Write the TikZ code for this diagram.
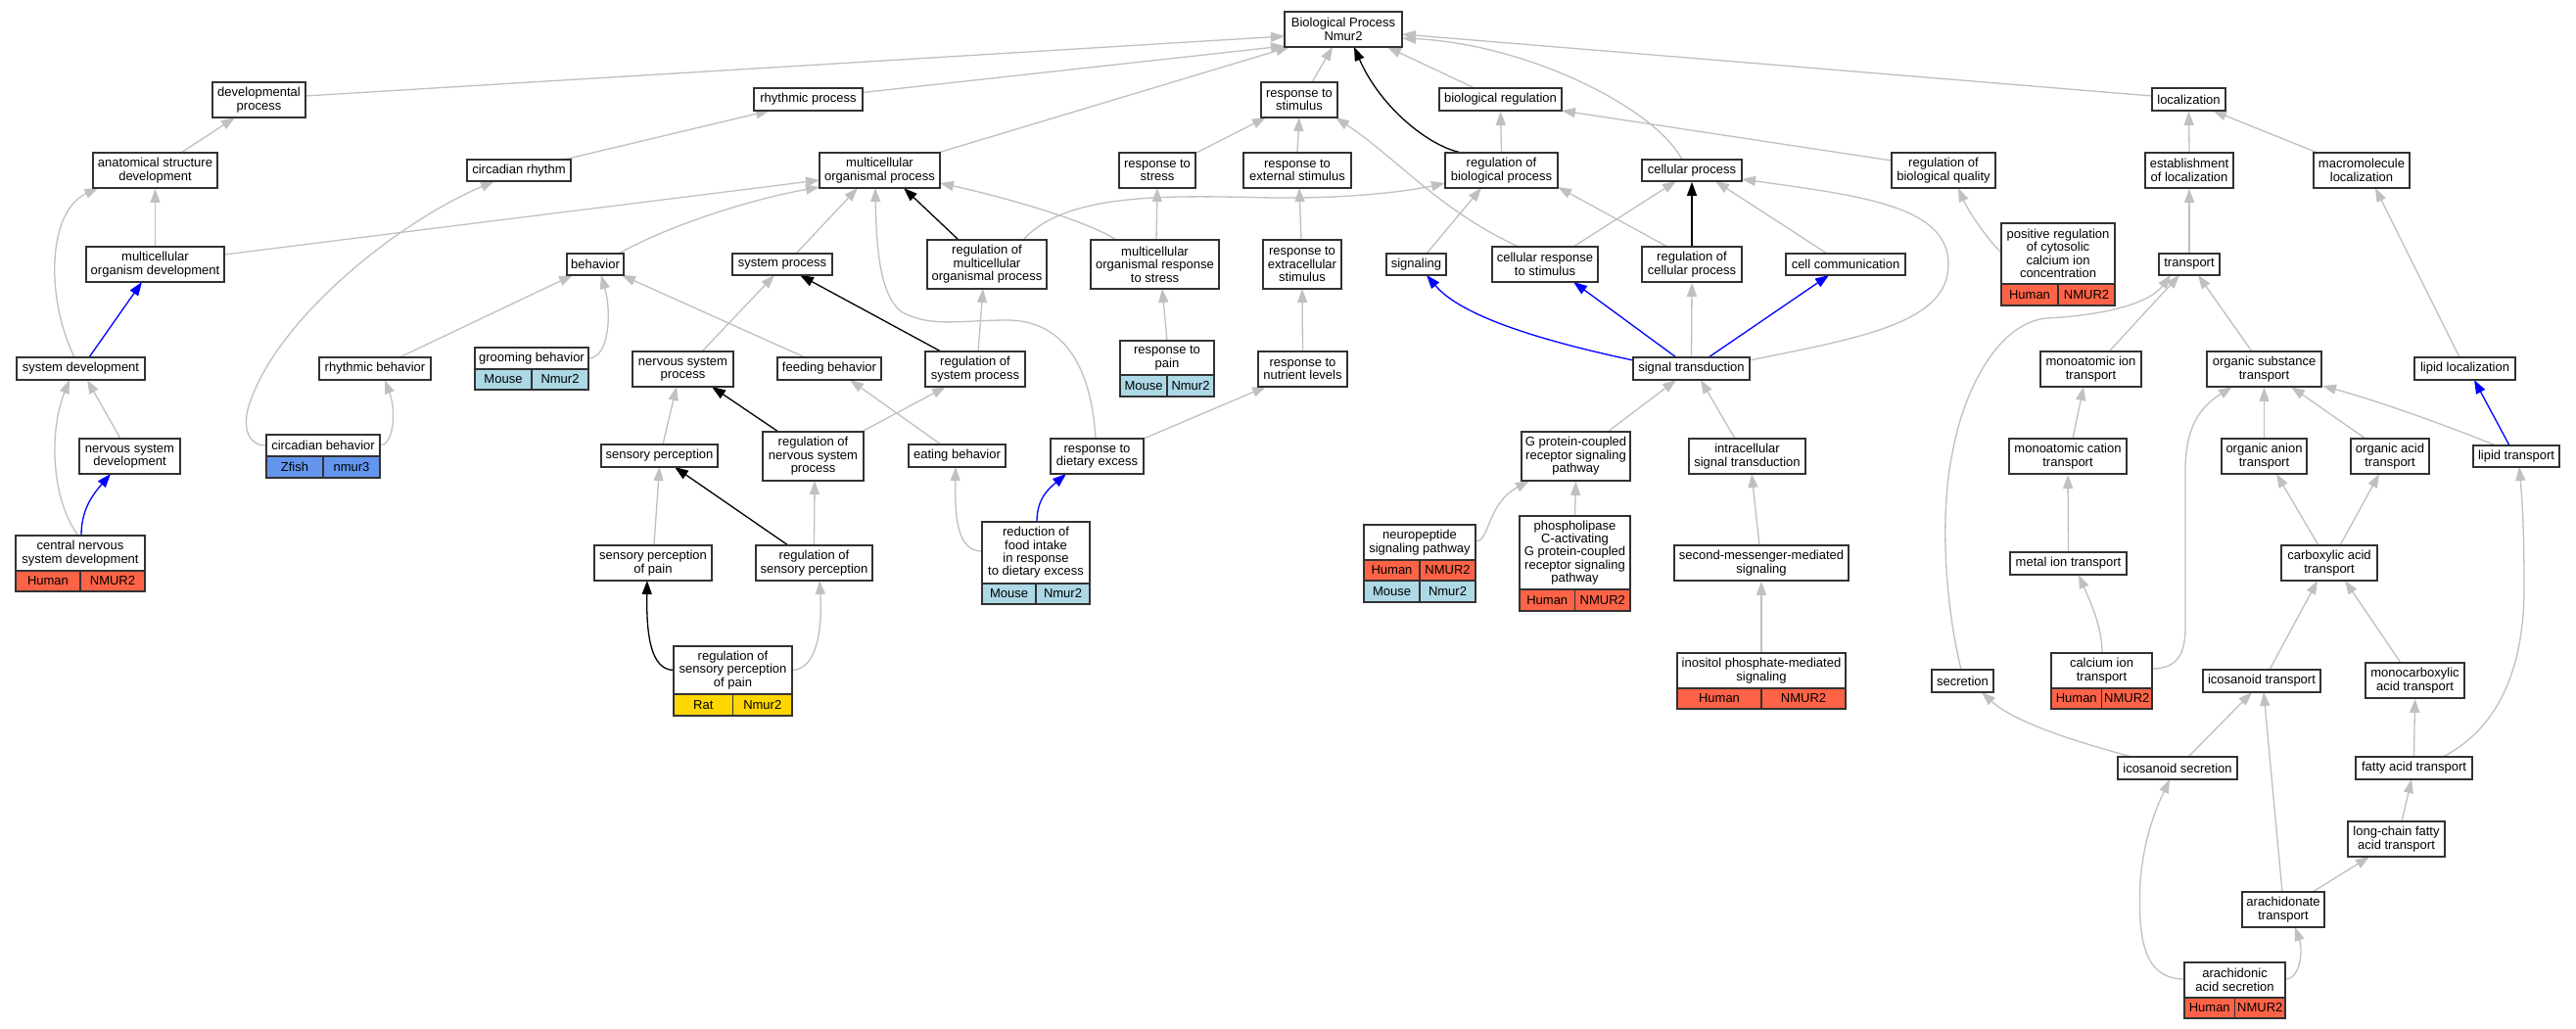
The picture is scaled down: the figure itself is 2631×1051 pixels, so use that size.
\documentclass[tikz,border=0pt]{standalone}
\usepackage{fontspec}
\setmainfont{Liberation Sans}
\usetikzlibrary{arrows.meta,calc,backgrounds}
\definecolor{egray}{RGB}{192,192,192}
\definecolor{hum}{RGB}{255,99,71}
\definecolor{mou}{RGB}{173,216,230}
\definecolor{zfi}{RGB}{100,149,237}
\definecolor{ratc}{RGB}{255,215,0}
\definecolor{bord}{RGB}{50,50,50}
\newcommand{\gonode}[6]{%
\pgfmathsetmacro{\gocx}{(#2+#3)/2}%
\pgfmathsetmacro{\gocy}{(#4+#5)/2}%
\pgfmathsetmacro{\gow}{#3-#2}%
\pgfmathsetmacro{\goh}{#5-#4}%
\node[gobox, minimum width=\gow pt, minimum height=\goh pt] (#1) at (\gocx,\gocy) {#6};}
\newcommand{\gorow}[8]{%
\pgfmathsetmacro{\gom}{(#2+#3)/2}%
\pgfmathsetmacro{\gow}{(#3-#2)/2}%
\pgfmathsetmacro{\goh}{#5-#4}%
\pgfmathsetmacro{\gocy}{(#4+#5)/2}%
\pgfmathsetmacro{\gola}{(#2+\gom)/2}%
\pgfmathsetmacro{\golb}{(\gom+#3)/2}%
\node[gobox, fill=#6, minimum width=\gow pt, minimum height=\goh pt] (#1-a) at (\gola,\gocy) {#7};
\node[gobox, fill=#6, minimum width=\gow pt, minimum height=\goh pt] (#1-b) at (\golb,\gocy) {#8};}
\begin{document}
\begin{tikzpicture}[x=1pt,y=-1pt,
  gobox/.style={draw=bord, line width=1.7pt, fill=white, inner sep=0pt, align=center, font=\fontsize{13}{13.4}\selectfont},
  gedge/.style={draw=egray, line width=1.3pt, -{Triangle[length=14pt,width=10pt]}},
  bedge/.style={gedge, draw=black},
  uedge/.style={gedge, draw=blue}]
\useasboundingbox (0,0) rectangle (2631,1051);
% ---------- nodes ----------
\gonode{BP}{1312}{1432}{12}{48}{Biological Process\\Nmur2}
\gonode{devproc}{217}{312}{84}{120}{developmental\\process}
\gonode{rp}{770}{881}{90}{113}{rhythmic process}
\gonode{rts}{1288}{1366}{84}{120}{response to\\stimulus}
\gonode{bioreg}{1470}{1595}{90}{113}{biological regulation}
\gonode{loc}{2198}{2273}{90}{113}{localization}
\gonode{asd}{95}{222}{156}{192}{anatomical structure\\development}
\gonode{cr}{477}{583}{163}{185}{circadian rhythm}
\gonode{mop}{837}{960}{156}{192}{multicellular\\organismal process}
\gonode{rstress}{1143}{1221}{156}{192}{response to\\stress}
\gonode{rext}{1270}{1380}{156}{192}{response to\\external stimulus}
\gonode{rbp}{1476}{1591}{156}{192}{regulation of\\biological process}
\gonode{cp}{1677}{1779}{163}{185}{cellular process}
\gonode{rbq}{1932}{2038}{156}{192}{regulation of\\biological quality}
\gonode{eol}{2191}{2281}{156}{192}{establishment\\of localization}
\gonode{ml}{2363}{2461}{156}{192}{macromolecule\\localization}
\gonode{mod}{88}{229}{252}{288}{multicellular\\organism development}
\gonode{beh}{579}{637}{259}{281}{behavior}
\gonode{sp}{748}{850}{259}{281}{system process}
\gonode{rmop}{947}{1069}{245}{295}{regulation of\\multicellular\\organismal process}
\gonode{mors}{1114}{1245}{245}{295}{multicellular\\organismal response\\to stress}
\gonode{rextra}{1290}{1370}{245}{295}{response to\\extracellular\\stimulus}
\gonode{sig}{1416}{1477}{259}{281}{signaling}
\gonode{crs}{1524}{1632}{252}{288}{cellular response\\to stimulus}
\gonode{rcp}{1677}{1779}{252}{288}{regulation of\\cellular process}
\gonode{cc}{1824}{1946}{259}{281}{cell communication}
\gonode{posreg}{2044}{2160}{228}{290}{positive regulation\\of cytosolic\\calcium ion\\concentration}
\gorow{posregr}{2044}{2160}{290}{312}{hum}{Human}{NMUR2}
\gonode{tr}{2205}{2267}{259}{281}{transport}
\gonode{sd}{17}{148}{365}{388}{system development}
\gonode{rb}{326}{440}{365}{388}{rhythmic behavior}
\gonode{gb}{485}{601}{355}{377}{grooming behavior}
\gorow{gbr}{485}{601}{377}{398}{mou}{Mouse}{Nmur2}
\gonode{nsp}{646}{749}{359}{395}{nervous system\\process}
\gonode{fb}{794}{900}{365}{388}{feeding behavior}
\gonode{rsp}{945}{1047}{359}{395}{regulation of\\system process}
\gonode{rpain}{1144}{1240}{348}{383}{response to\\pain}
\gorow{rpainr}{1144}{1240}{383}{405}{mou}{Mouse}{Nmur2}
\gonode{rnl}{1285}{1376}{359}{395}{response to\\nutrient levels}
\gonode{st}{1668}{1787}{365}{388}{signal transduction}
\gonode{mit}{2084}{2187}{359}{395}{monoatomic ion\\transport}
\gonode{ost}{2254}{2371}{359}{395}{organic substance\\transport}
\gonode{ll}{2466}{2569}{365}{388}{lipid localization}
\gonode{nsd}{81}{184}{448}{484}{nervous system\\development}
\gonode{cb}{272}{388}{444}{466}{circadian behavior}
\gorow{cbr}{272}{388}{466}{488}{zfi}{Zfish}{nmur3}
\gonode{sperc}{614}{733}{454}{477}{sensory perception}
\gonode{rnsp}{779}{882}{441}{491}{regulation of\\nervous system\\process}
\gonode{eb}{928}{1027}{454}{477}{eating behavior}
\gonode{rde}{1073}{1168}{448}{484}{response to\\dietary excess}
\gonode{gpcr}{1554}{1665}{441}{491}{G protein-coupled\\receptor signaling\\pathway}
\gonode{ist}{1725}{1844}{448}{484}{intracellular\\signal transduction}
\gonode{mcat}{2052}{2172}{448}{484}{monoatomic cation\\transport}
\gonode{oat}{2269}{2356}{448}{484}{organic anion\\transport}
\gonode{oacid}{2401}{2481}{448}{484}{organic acid\\transport}
\gonode{lt}{2526}{2614}{455}{477}{lipid transport}
\gonode{cnsd}{16}{148}{547}{583}{central nervous\\system development}
\gorow{cnsdr}{16}{148}{583}{604}{hum}{Human}{NMUR2}
\gonode{spp}{607}{727}{557}{593}{sensory perception\\of pain}
\gonode{rsperc}{772}{891}{557}{593}{regulation of\\sensory perception}
\gonode{rfi}{1003}{1113}{533}{596}{reduction of\\food intake\\in response\\to dietary excess}
\gorow{rfir}{1003}{1113}{596}{617}{mou}{Mouse}{Nmur2}
\gonode{neuro}{1393}{1507}{536}{572}{neuropeptide\\signaling pathway}
\gorow{neuror}{1393}{1507}{572}{593}{hum}{Human}{NMUR2}
\gorow{neurors}{1393}{1507}{593}{615}{mou}{Mouse}{Nmur2}
\gonode{plc}{1552}{1665}{527}{602}{phospholipase\\C-activating\\G protein-coupled\\receptor signaling\\pathway}
\gorow{plcr}{1552}{1665}{602}{624}{hum}{Human}{NMUR2}
\gonode{sms}{1710}{1888}{557}{593}{second-messenger-mediated\\signaling}
\gonode{metal}{2053}{2172}{564}{587}{metal ion transport}
\gonode{carb}{2330}{2428}{557}{593}{carboxylic acid\\transport}
\gonode{rsppain}{688}{809}{660}{709}{regulation of\\sensory perception\\of pain}
\gorow{rsppainr}{688}{809}{709}{731}{ratc}{Rat}{Nmur2}
\gonode{ips}{1713}{1885}{667}{703}{inositol phosphate-mediated\\signaling}
\gorow{ipsr}{1713}{1885}{703}{724}{hum}{Human}{NMUR2}
\gonode{sec}{1973}{2036}{684}{707}{secretion}
\gonode{cit}{2095}{2198}{667}{703}{calcium ion\\transport}
\gorow{citr}{2095}{2198}{703}{724}{hum}{Human}{NMUR2}
\gonode{ict}{2250}{2370}{684}{707}{icosanoid transport}
\gonode{mca}{2416}{2517}{677}{713}{monocarboxylic\\acid transport}
\gonode{icosec}{2163}{2285}{773}{796}{icosanoid secretion}
\gonode{fat}{2406}{2525}{773}{796}{fatty acid transport}
\gonode{lcfat}{2398}{2497}{839}{875}{long-chain fatty\\acid transport}
\gonode{arat}{2290}{2374}{911}{947}{arachidonate\\transport}
\gonode{aas}{2231}{2334}{983}{1019}{arachidonic\\acid secretion}
\gorow{aasr}{2231}{2334}{1019}{1040}{hum}{Human}{NMUR2}
% ---------- edges ----------
\begin{pgfonlayer}{background}
\fill[white] (0,0) rectangle (2631,1051);
\draw[gedge] ($(devproc)+(47.5,-4)$) -- ($(BP)+(-60,7)$);
\draw[gedge] ($(rp)+(55.5,-7)$) -- ($(BP)+(-60,17)$);
\draw[gedge] ($(mop)+(59.5,-18)$) -- ($(BP)+(-55,18)$);
\draw[gedge] ($(rts)+(13,-18)$) -- ($(BP)+(-11,18)$);
\draw[bedge] ($(rbp)+(-40.5,-18)$) .. controls (1460,150) and (1410,110) .. ($(BP)+(11,18)$);
\draw[gedge] ($(bioreg)+(-26.5,-11.5)$) -- ($(BP)+(45,18)$);
\draw[gedge] ($(cp)+(-10,-11)$) .. controls (1690,110) and (1560,45) .. ($(BP)+(60,9)$);
\draw[gedge] ($(loc)+(-37.5,-3.5)$) -- ($(BP)+(60,5)$);
\draw[gedge] ($(asd)+(26.5,-18)$) -- ($(devproc)+(-24.5,18)$);
\draw[gedge] ($(cr)+(46,-11)$) -- ($(rp)+(-39.5,11.5)$);
\draw[gedge] (mod.north) -- (asd.south);
\draw[gedge] ($(mod)+(70.5,-10)$) -- ($(mop)+(-61.5,10)$);
\draw[gedge] ($(beh)+(24,-11)$) .. controls (680,232) and (760,205) .. ($(mop)+(-61.5,17)$);
\draw[gedge] ($(sd)+(-6.5,-11.5)$) .. controls (45,300) and (50,215) .. ($(asd)+(-58,18)$);
\draw[uedge] ($(sd)+(8.5,-11.5)$) -- ($(mod)+(-13.5,18)$);
\draw[gedge] ($(nsd)+(-9.5,-18)$) -- ($(sd)+(6.5,11.5)$);
\draw[uedge] ($(cnsd)+(1,-18)$) .. controls (83,520) and (95,505) .. ($(nsd)+(-19.5,18)$);
\draw[gedge] ($(cnsd)+(-2,-18)$) .. controls (52,510) and (50,440) .. ($(sd)+(-11.5,11.5)$);
\draw[gedge] ($(cb)+(-58,0)$) .. controls (252,455) and (248,435) .. (254,415) .. controls (280,330) and (400,230) .. ($(cr)+(-25,11)$);
\draw[gedge] ($(cb)+(58,0)$) .. controls (402,455) and (405,420) .. ($(rb)+(10,11.5)$);
\draw[gedge] ($(rb)+(25,-11.5)$) -- ($(beh)+(-23,11)$);
\draw[gedge] ($(gb)+(58,0)$) .. controls (622,366) and (625,320) .. ($(beh)+(6,11)$);
\draw[gedge] ($(fb)+(-25,-11.5)$) -- ($(beh)+(27,11)$);
\draw[gedge] ($(eb)+(-16.5,-11.5)$) -- ($(fb)+(21,11.5)$);
\draw[gedge] ($(rfi)+(-55,-1.5)$) .. controls (978,563) and (975,530) .. ($(eb)+(-1.5,11.5)$);
\draw[uedge] ($(rfi)+(1,-31.5)$) .. controls (1059,510) and (1070,500) .. ($(rde)+(-31.5,18)$);
\draw[gedge] ($(rde)+(47.5,-18)$) -- ($(rnl)+(-37.5,18)$);
\draw[gedge] ($(rde)+(-1.5,-18)$) .. controls (1115,380) and (1090,328) .. (1030,327) .. controls (980,327) and (950,335) .. (920,318) .. controls (898,300) and (895,250) .. ($(mop)+(-4.5,18)$);
\draw[gedge] ($(sp)+(14,-11)$) -- ($(mop)+(-22.5,18)$);
\draw[bedge] ($(rmop)+(-29,-25)$) -- ($(mop)+(24.5,18)$);
\draw[gedge] ($(rmop)+(37,-25)$) .. controls (1090,195) and (1200,200) .. (1300,202) .. controls (1380,203) and (1440,195) .. ($(rbp)+(-57.5,13)$);
\draw[gedge] ($(mors)+(-39.5,-25)$) .. controls (1110,225) and (1020,200) .. ($(mop)+(61.5,13)$);
\draw[gedge] ($(mors)+(1.5,-25)$) -- ($(rstress)+(0,18)$);
\draw[gedge] ($(rstress)+(40,-18)$) -- ($(rts)+(-34,18)$);
\draw[gedge] (rext.north) -- ($(rts)+(0,18)$);
\draw[gedge] ($(rextra)+(-1,-25)$) -- ($(rext)+(2,18)$);
\draw[gedge] (rnl.north) -- ($(rextra)+(0,25)$);
\draw[gedge] ($(rpain)+(0,-17.5)$) -- ($(mors)+(7.5,25)$);
\draw[gedge] ($(nsp)+(19.5,-18)$) -- ($(sp)+(-8,11)$);
\draw[bedge] ($(rsp)+(-35,-18)$) -- ($(sp)+(18,11)$);
\draw[gedge] ($(rsp)+(3,-18)$) -- ($(rmop)+(-4,25)$);
\draw[bedge] ($(rnsp)+(-35.5,-25)$) -- ($(nsp)+(29.5,18)$);
\draw[gedge] ($(rnsp)+(49.5,-25)$) -- ($(rsp)+(-30,18)$);
\draw[gedge] ($(sperc)+(3.5,-11.5)$) -- ($(nsp)+(-6.5,18)$);
\draw[gedge] ($(spp)+(1,-18)$) -- ($(sperc)+(0,11.5)$);
\draw[bedge] ($(rsperc)+(-26.5,-18)$) -- ($(sperc)+(15.5,11.5)$);
\draw[gedge] (rsperc.north) -- ($(rnsp)+(1.5,25)$);
\draw[bedge] ($(rsppain)+(-60.5,0)$) .. controls (665,684) and (660,650) .. ($(spp)+(-6,18)$);
\draw[gedge] ($(rsppain)+(60.5,0)$) .. controls (835,684) and (840,640) .. ($(rsperc)+(5.5,18)$);
\draw[gedge] ($(sig)+(10.5,-11)$) -- ($(rbp)+(-20.5,18)$);
\draw[gedge] ($(crs)+(-27,-18)$) .. controls (1470,215) and (1425,160) .. ($(rts)+(37,18)$);
\draw[gedge] ($(crs)+(29,-18)$) -- ($(cp)+(-16,11)$);
\draw[bedge] (rcp.north) -- (cp.south);
\draw[gedge] ($(rcp)+(-25,-18)$) -- ($(rbp)+(57.5,17)$);
\draw[gedge] ($(cc)+(-19,-11)$) -- ($(cp)+(24,11)$);
\draw[uedge] ($(st)+(-59.5,-8.5)$) .. controls (1560,345) and (1490,320) .. ($(sig)+(10.5,11)$);
\draw[uedge] ($(st)+(-15.5,-11.5)$) -- ($(crs)+(29,18)$);
\draw[gedge] (st.north) -- (rcp.south);
\draw[uedge] ($(st)+(17.5,-11.5)$) -- ($(cc)+(-17,11)$);
\draw[gedge] ($(st)+(59.5,-8.5)$) .. controls (1900,345) and (1990,330) .. (1990,270) .. controls (1990,210) and (1900,200) .. ($(cp)+(51,9)$);
\draw[gedge] ($(gpcr)+(32.5,-25)$) -- ($(st)+(-15.5,11.5)$);
\draw[gedge] ($(ist)+(-12.5,-18)$) -- ($(st)+(9.5,11.5)$);
\draw[gedge] ($(neuro)+(57,-1)$) .. controls (1522,553) and (1518,515) .. ($(gpcr)+(-47.5,25)$);
\draw[gedge] (plc.north) -- (gpcr.south);
\draw[gedge] ($(sms)+(-2,-18)$) -- ($(ist)+(4.5,18)$);
\draw[gedge] (ips.north) -- (sms.south);
\draw[gedge] ($(rbq)+(-53,-10)$) -- ($(bioreg)+(62.5,11.5)$);
\draw[gedge] ($(posreg)+(-58,-1)$) .. controls (2030,245) and (2010,215) .. ($(rbq)+(15,18)$);
\draw[gedge] (eol.north) -- (loc.south);
\draw[gedge] ($(ml)+(-45,-18)$) -- ($(loc)+(24.5,11.5)$);
\draw[gedge] (tr.north) -- (eol.south);
\draw[gedge] ($(mit)+(18.5,-18)$) -- ($(tr)+(-10,11)$);
\draw[gedge] ($(ost)+(-12.5,-18)$) -- ($(tr)+(9,11)$);
\draw[gedge] ($(sec)+(-1.5,-11.5)$) .. controls (1985,610) and (1982,520) .. (1994,463) .. controls (2005,400) and (2040,330) .. (2090,325) .. controls (2150,322) and (2195,310) .. ($(tr)+(-19,11)$);
\draw[gedge] ($(ll)+(-5.5,-11.5)$) -- ($(ml)+(14,18)$);
\draw[uedge] ($(lt)+(-7,-11)$) -- ($(ll)+(9.5,11.5)$);
\draw[gedge] ($(lt)+(-21,-11)$) .. controls (2500,435) and (2430,410) .. ($(ost)+(59.5,17)$);
\draw[gedge] (oat.north) -- (ost.south);
\draw[gedge] ($(oacid)+(-25,-18)$) -- ($(ost)+(27.5,18)$);
\draw[gedge] ($(cit)+(51.5,-2)$) .. controls (2226,683) and (2232,665) .. (2232,640) -- (2232,480) .. controls (2232,435) and (2248,415) .. ($(ost)+(-32.5,18)$);
\draw[gedge] ($(mcat)+(5,-18)$) -- ($(mit)+(-7.5,18)$);
\draw[gedge] (metal.north) -- (mcat.south);
\draw[gedge] ($(cit)+(0.5,-18)$) .. controls (2147,640) and (2135,615) .. ($(metal)+(10.5,11.5)$);
\draw[gedge] ($(carb)+(-11,-18)$) -- ($(oat)+(12.5,18)$);
\draw[gedge] ($(carb)+(11,-18)$) -- ($(oacid)+(-11,18)$);
\draw[gedge] ($(ict)+(8,-11.5)$) -- ($(carb)+(-12,18)$);
\draw[gedge] ($(mca)+(-14.5,-18)$) -- ($(carb)+(16,18)$);
\draw[gedge] (fat.north) -- (mca.south);
\draw[gedge] ($(fat)+(29.5,-11.5)$) .. controls (2540,750) and (2578,700) .. (2578,600) .. controls (2578,540) and (2576,510) .. ($(lt)+(3,11)$);
\draw[gedge] ($(lcfat)+(5.5,-18)$) -- ($(fat)+(-2.5,11.5)$);
\draw[gedge] ($(arat)+(30,-18)$) -- ($(lcfat)+(-27.5,18)$);
\draw[gedge] ($(arat)+(-1,-18)$) -- ($(ict)+(2,11.5)$);
\draw[gedge] ($(icosec)+(11,-11.5)$) -- ($(ict)+(-10,11.5)$);
\draw[gedge] ($(icosec)+(-47,-11.5)$) .. controls (2130,760) and (2060,740) .. ($(sec)+(19.5,11.5)$);
\draw[gedge] ($(aas)+(-51.5,-1)$) .. controls (2190,1000) and (2183,960) .. (2186,900) .. controls (2190,850) and (2205,820) .. ($(icosec)+(-8,11.5)$);
\draw[gedge] ($(aas)+(51.5,-1)$) .. controls (2350,1000) and (2352,970) .. ($(arat)+(12,18)$);
\draw[gedge] (rbp.north) -- (bioreg.south);
\end{pgfonlayer}
\end{tikzpicture}
\end{document}
